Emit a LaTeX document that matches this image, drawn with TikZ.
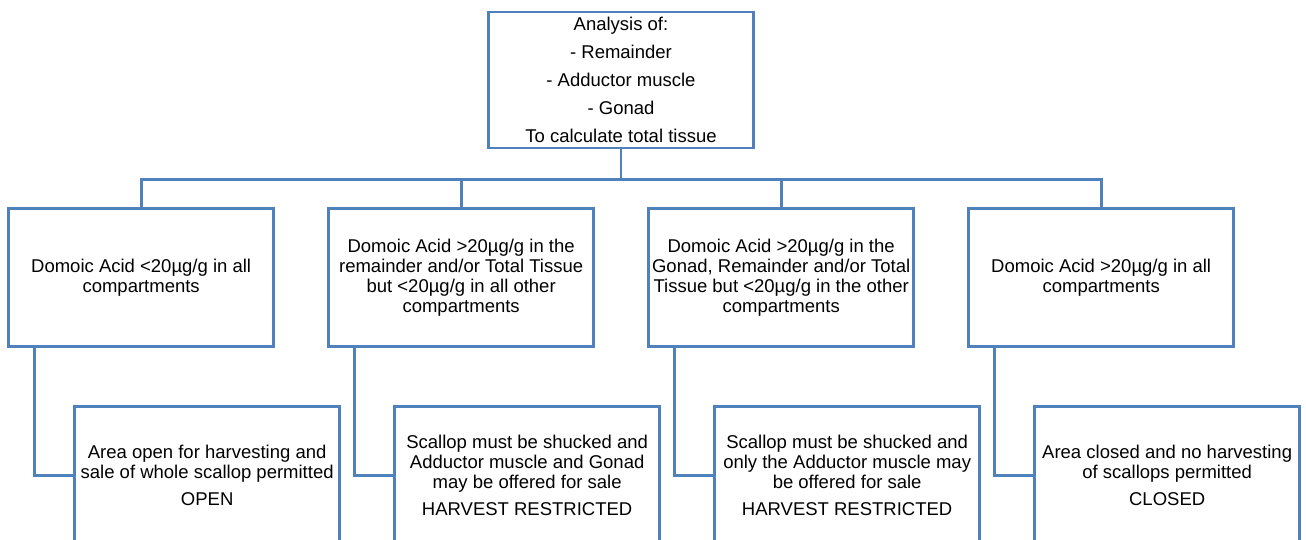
\documentclass[tikz,border=0pt]{standalone}
\usepackage{fontspec}
\setmainfont{Liberation Sans}
\usepackage{xcolor}
\usetikzlibrary{positioning}
\definecolor{boxblue}{RGB}{79,129,189}

\begin{document}
\begin{tikzpicture}[x=1pt, y=1pt,
  node distance=52.3pt,
  box/.style={draw=boxblue, line width=2.7pt, align=center, minimum width=265pt,
              minimum height=138pt, inner sep=0pt, font=\fontsize{18.5}{20}\selectfont},
  topbox/.style={box, minimum height=136pt, font=\fontsize{18.5}{28}\selectfont},
  link/.style={draw=boxblue, line width=2.7pt}
]
\useasboundingbox (0,0) rectangle (1306,-540);
\clip (0,0) rectangle (1306,-540);
\node[topbox] (analysis) at (621,-80) {Analysis of:\\- Remainder\\- Adductor muscle\\- Gonad\\To calculate total tissue};
% decision row
\node[box, below left=58pt and 26pt of analysis.south] (remhigh) {Domoic Acid >20µg/g in the\\remainder and/or Total Tissue\\but <20µg/g in all other\\compartments};
\node[box, left=of remhigh] (lowall) {Domoic Acid <20µg/g in all\\compartments};
\node[box, right=of remhigh] (gonhigh) {Domoic Acid >20µg/g in the\\Gonad, Remainder and/or Total\\Tissue but <20µg/g in the other\\compartments};
\node[box, right=of gonhigh] (highall) {Domoic Acid >20µg/g in all\\compartments};
% outcomes
\node[box, below right=57pt and 66pt of lowall.south west] (open) {Area open for harvesting and\\sale of whole scallop permitted\\[7pt]OPEN};
\node[box, below right=57pt and 66pt of remhigh.south west] (restrA) {Scallop must be shucked and\\Adductor muscle and Gonad\\may be offered for sale\\[7pt]HARVEST RESTRICTED};
\node[box, below right=57pt and 66pt of gonhigh.south west] (restrB) {Scallop must be shucked and\\only the Adductor muscle may\\be offered for sale\\[7pt]HARVEST RESTRICTED};
\node[box, below right=57pt and 66pt of highall.south west] (closed) {Area closed and no harvesting\\of scallops permitted\\[7pt]CLOSED};
\coordinate[below=30pt of analysis.south] (branch);
\draw[link] (analysis.south) -- (branch) -| (lowall.north);
\draw[link] (branch) -| (remhigh.north);
\draw[link] (branch) -| (gonhigh.north);
\draw[link] (branch) -| (highall.north);
\draw[link] ([xshift=27pt]lowall.south west) |- (open.west);
\draw[link] ([xshift=27pt]remhigh.south west) |- (restrA.west);
\draw[link] ([xshift=27pt]gonhigh.south west) |- (restrB.west);
\draw[link] ([xshift=27pt]highall.south west) |- (closed.west);
\end{tikzpicture}
\end{document}
